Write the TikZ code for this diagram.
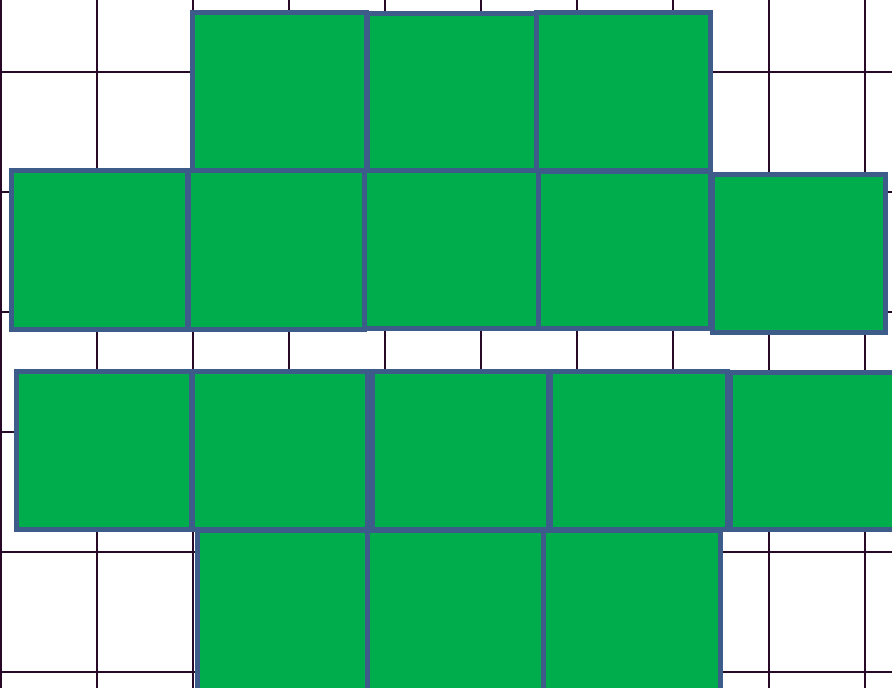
\documentclass[tikz,border=0pt]{standalone}
\definecolor{gridc}{RGB}{40,10,40}
\definecolor{sqfill}{RGB}{0,173,77}
\definecolor{sqedge}{RGB}{62,92,138}
\tikzset{
  gridline/.style={draw=gridc, line width=2.2pt},
  tile/.style={fill=sqfill, draw=sqedge, line width=5pt, line join=miter}
}
\begin{document}
\begin{tikzpicture}[x=1pt,y=-1pt]
\useasboundingbox (0,0) rectangle (892,688);
\clip (0,0) rectangle (892,688);
\fill[white] (0,0) rectangle (892,688);
% grid
\foreach \gx in {1,97,193,289,385,481,577,673,769,865}
  \draw[gridline] (\gx,0) -- (\gx,688);
\foreach \gy in {72,192,312,432,552,672}
  \draw[gridline] (0,\gy) -- (892,\gy);
% row 1
\draw[tile] (192,12.5) rectangle (366.5,170.5);
\draw[tile] (367.5,13) rectangle (536.5,170.5);
\draw[tile] (536.5,12.5) rectangle (710.5,170.5);
% row 2
\draw[tile] (11,170.5) rectangle (187.5,329);
\draw[tile] (188,170.5) rectangle (364.5,329);
\draw[tile] (364.5,170.5) rectangle (538.5,328.5);
\draw[tile] (538.5,171) rectangle (710.5,328);
\draw[tile] (712,174.5) rectangle (885,332);
% row 3
\draw[tile] (16.5,371.5) rectangle (191,529.5);
\draw[tile] (192,371.5) rectangle (367,529.5);
\draw[tile] (372,371.5) rectangle (548,529.5);
\draw[tile] (550,371.5) rectangle (727,529.5);
\draw[tile] (730,372) rectangle (905,529.5);
% row 4
\draw[tile] (197,530) rectangle (367.5,700);
\draw[tile] (367.5,530) rectangle (543.5,700);
\draw[tile] (543.5,530) rectangle (720,700);
\end{tikzpicture}
\end{document}
